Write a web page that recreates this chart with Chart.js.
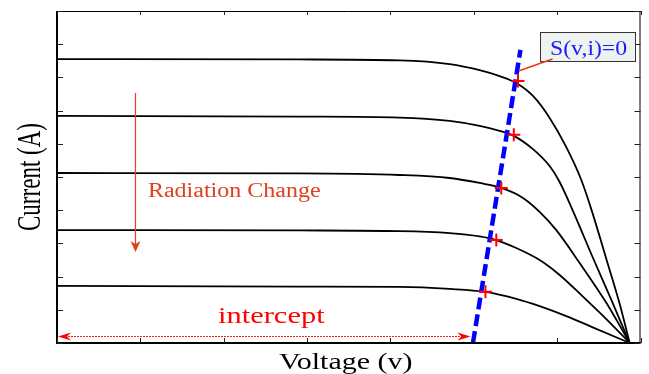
<!DOCTYPE html>
<html><head><meta charset="utf-8">
<script src="https://cdn.jsdelivr.net/npm/chart.js@4"></script>
<style>html,body{margin:0;padding:0;background:#fff}canvas{display:block}</style>
</head><body>
<canvas id="c" width="649" height="374"></canvas>
<script>
// ---- data ----
const xTickValues = [0,1,2,3,4,5,6,7];
const yTickValues = [0,1,2,3,4,5,6,7,8,9,10];

const curve1V = [0, 2.91, 4.11, 4.71, 5.07, 5.31, 5.51, 5.71, 5.91, 6.11, 6.29, 6.42, 6.59, 6.75, 6.87];
const curve1I = [8.55, 8.54, 8.51, 8.40, 8.22, 8.04, 7.83, 7.44, 6.78, 5.90, 4.91, 3.95, 2.53, 1.18, 0];
const curve2V = [0, 2.91, 4.11, 4.71, 5.07, 5.31, 5.48, 5.71, 5.91, 6.03, 6.21, 6.42, 6.65, 6.87];
const curve2I = [6.84, 6.82, 6.79, 6.69, 6.54, 6.39, 6.24, 5.84, 5.33, 4.85, 3.86, 2.62, 1.30, 0];
const curve3V = [0, 2.91, 4.11, 4.71, 5.07, 5.33, 5.59, 5.79, 5.99, 6.27, 6.59, 6.87];
const curve3I = [5.12, 5.11, 5.06, 4.97, 4.82, 4.67, 4.37, 3.95, 3.40, 2.41, 1.21, 0];
const curve4V = [0, 2.91, 4.11, 4.71, 5.07, 5.27, 5.51, 5.79, 6.03, 6.30, 6.59, 6.87];
const curve4I = [3.40, 3.39, 3.37, 3.31, 3.21, 3.10, 2.86, 2.50, 2.05, 1.42, 0.72, 0];
const curve5V = [0, 2.91, 4.11, 4.71, 5.14, 5.51, 5.79, 6.11, 6.42, 6.87];
const curve5I = [1.72, 1.70, 1.69, 1.63, 1.54, 1.33, 1.11, 0.81, 0.48, 0];

const mppV = [5.53, 5.48, 5.33, 5.27, 5.14];
const mppI = [7.89, 6.27, 4.67, 3.10, 1.54];

const sLineV = [4.99, 5.56];
const sLineI = [0, 8.83];

const xTitle = 'Voltage (v)';
const yTitle = 'Current (A)';
const sLabel = 'S(v,i)=0';
const radiationLabel = 'Radiation Change';
const interceptLabel = 'intercept';

// ---- build ----
const pts = (xs, ys) => xs.map((x, i) => ({x, y: ys[i]}));
const curves = [[curve1V,curve1I],[curve2V,curve2I],[curve3V,curve3I],[curve4V,curve4I],[curve5V,curve5I]];

const datasets = curves.map(([v,i]) => ({
  data: pts(v,i), showLine: true, borderColor: '#000', borderWidth: 1.8,
  borderJoinStyle: 'round',
  pointRadius: 0, cubicInterpolationMode: 'monotone', order: 3
}));
datasets.push({
  data: pts(sLineV, sLineI), showLine: true, borderColor: '#0000ff', borderWidth: 4.5,
  borderDash: [12, 5], pointRadius: 0, order: 2, clip: false
});
datasets.push({
  data: pts(mppV, mppI), showLine: false, pointStyle: 'cross', pointRadius: 6.5,
  borderColor: '#ff0000', pointBorderWidth: 2, order: 1
});

// annotation placement (data units)
const place = {
  sBox: {x0: 5.80, x1: 6.94, y0: 9.37, y1: 8.49},
  sText: {x: 6.377, y: 8.66},
  sPointer: {x0: 5.945, y0: 8.554, x1: 5.538, y1: 8.193},
  radArrow: {x: 0.935, y0: 7.53, y1: 2.74},
  radText: {x: 1.091, y: 4.40},
  intText: {x: 2.571, y: 0.611},
  intArrow: {y: 0.211, x0: 0.012, x1: 4.96}
};

function sText(ctx, txt, x, y, size, color, align, sx) {
  ctx.save();
  ctx.translate(x, y);
  ctx.scale(sx, 1);
  ctx.font = size + 'px "Liberation Serif", "Times New Roman", serif';
  ctx.fillStyle = color;
  ctx.textAlign = align;
  ctx.textBaseline = 'alphabetic';
  ctx.fillText(txt, 0, 0);
  ctx.restore();
}
function arrowHead(ctx, tx, ty, ang, len, hw, notch, color) {
  ctx.save();
  ctx.translate(tx, ty);
  ctx.rotate(ang);
  ctx.beginPath();
  ctx.moveTo(0, 0);
  ctx.lineTo(-len, -hw);
  ctx.lineTo(-len + notch, 0);
  ctx.lineTo(-len, hw);
  ctx.closePath();
  ctx.fillStyle = color;
  ctx.fill();
  ctx.restore();
}

const deco = {
  id: 'deco',
  afterDatasetsDraw(chart) {
    const ctx = chart.ctx;
    const xs = chart.scales.x, ys = chart.scales.y;
    const X = v => xs.getPixelForValue(v), Y = v => ys.getPixelForValue(v);
    const {left, right, top, bottom} = chart.chartArea;

    // frame
    ctx.save();
    ctx.strokeStyle = '#000';
    ctx.lineWidth = 1;
    ctx.beginPath();
    ctx.moveTo(left, top + 0.5); ctx.lineTo(right, top + 0.5);
    ctx.moveTo(right - 0.5, top); ctx.lineTo(right - 0.5, bottom);
    ctx.stroke();
    ctx.lineWidth = 2;
    ctx.beginPath();
    ctx.moveTo(left, top); ctx.lineTo(left, bottom + 1);
    ctx.moveTo(left - 1, bottom); ctx.lineTo(right, bottom);
    ctx.stroke();
    // inward ticks
    ctx.strokeStyle = '#222';
    ctx.lineWidth = 1;
    ctx.beginPath();
    yTickValues.forEach(v => {
      const py = Math.round(Y(v)) + 0.5;
      ctx.moveTo(left, py); ctx.lineTo(left + 6, py);
      ctx.moveTo(right, py); ctx.lineTo(right - 6, py);
    });
    xTickValues.forEach(v => {
      const px = Math.round(X(v)) + 0.5;
      ctx.moveTo(px, bottom); ctx.lineTo(px, bottom - 5);
      ctx.moveTo(px, top); ctx.lineTo(px, top + 4);
    });
    ctx.stroke();
    ctx.restore();

    // S(v,i)=0 box
    const b = place.sBox;
    const bx = Math.round(X(b.x0)) + 0.5, by = Math.round(Y(b.y0)) + 0.5;
    const bw = Math.round(X(b.x1) - X(b.x0)), bh = Math.round(Y(b.y1) - Y(b.y0));
    ctx.save();
    ctx.fillStyle = '#eef3ef';
    ctx.fillRect(bx, by, bw, bh);
    ctx.strokeStyle = '#333';
    ctx.lineWidth = 1;
    ctx.strokeRect(bx, by, bw, bh);
    ctx.restore();
    sText(ctx, sLabel, X(place.sText.x), Y(place.sText.y), 21, '#1a1aff', 'center', 1.13);
    const sp = place.sPointer;
    ctx.save();
    ctx.strokeStyle = '#e8381a';
    ctx.lineWidth = 1.5;
    ctx.beginPath();
    ctx.moveTo(X(sp.x0), Y(sp.y0)); ctx.lineTo(X(sp.x1), Y(sp.y1));
    ctx.stroke();
    ctx.restore();

    // Radiation change arrow + text
    const ra = place.radArrow;
    const rx = Math.round(X(ra.x)) + 0.5;
    ctx.save();
    ctx.strokeStyle = '#e2441f';
    ctx.lineWidth = 1.2;
    ctx.beginPath();
    ctx.moveTo(rx, Y(ra.y0));
    ctx.lineTo(rx, Y(ra.y1) - 6);
    ctx.stroke();
    ctx.restore();
    arrowHead(ctx, rx, Y(ra.y1), Math.PI / 2, 11, 5, 3, '#e0401e');
    sText(ctx, radiationLabel, X(place.radText.x), Y(place.radText.y), 20, '#e0401e', 'left', 1.2);

    // intercept arrow + text
    const ia = place.intArrow;
    const iy = Math.round(Y(ia.y)) + 0.5;
    ctx.save();
    ctx.strokeStyle = '#ff2020';
    ctx.lineWidth = 1;
    ctx.setLineDash([2, 1]);
    ctx.beginPath();
    ctx.moveTo(X(ia.x0) + 4, iy); ctx.lineTo(X(ia.x1) - 4, iy);
    ctx.stroke();
    ctx.restore();
    arrowHead(ctx, X(ia.x0), iy, Math.PI, 13, 4, 4, '#ff0000');
    arrowHead(ctx, X(ia.x1), iy, 0, 13, 4, 4, '#ff0000');
    sText(ctx, interceptLabel, X(place.intText.x), Y(place.intText.y), 24, '#ff0000', 'center', 1.27);

    // axis titles
    sText(ctx, xTitle, (left + right) / 2 - 3, bottom + 26, 24, '#000', 'center', 1.25);
    ctx.save();
    ctx.translate(40, (top + bottom) / 2);
    ctx.rotate(-Math.PI / 2);
    ctx.scale(1, 1.45);
    ctx.font = '23px "Liberation Serif", "Times New Roman", serif';
    ctx.fillStyle = '#000';
    ctx.textAlign = 'center';
    ctx.textBaseline = 'alphabetic';
    ctx.fillText(yTitle, 0, 0);
    ctx.restore();
  }
};

new Chart(document.getElementById('c'), {
  type: 'scatter',
  data: {datasets},
  options: {
    responsive: false,
    animation: false,
    layout: {padding: {top: 11, right: 8, left: 0, bottom: 0}},
    plugins: {legend: {display: false}, tooltip: {enabled: false}},
    scales: {
      x: {
        type: 'linear', min: xTickValues[0], max: xTickValues[xTickValues.length - 1],
        grid: {display: false}, border: {display: false},
        ticks: {display: false, stepSize: 1},
        afterFit: s => { s.height = 31; }
      },
      y: {
        type: 'linear', min: yTickValues[0], max: yTickValues[yTickValues.length - 1],
        grid: {display: false}, border: {display: false},
        ticks: {display: false, stepSize: 1},
        afterFit: s => { s.width = 57; }
      }
    }
  },
  plugins: [deco]
});
</script>
</body></html>
